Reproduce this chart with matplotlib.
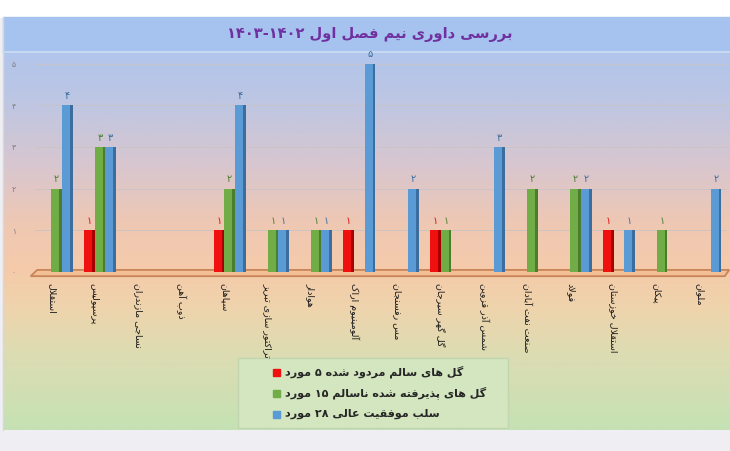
import re
import numpy as np
import matplotlib
matplotlib.use("Agg")
import matplotlib.pyplot as plt
from matplotlib.patches import Rectangle, Polygon
from matplotlib.colors import LinearSegmentedColormap

# ---- data ----
title = "بررسی داوری نیم فصل اول ۱۴۰۳-۱۴۰۲"
teams = ["استقلال", "پرسپولیس", "نساجی مازندران", "ذوب آهن", "سپاهان",
         "تراکتور سازی تبریز", "هوادار", "آلومینیوم اراک", "مس رفسنجان",
         "گل گهر سیرجان", "شمس آذر قزوین", "صنعت نفت آبادان", "فولاد",
         "استقلال خوزستان", "پیکان", "ملوان"]
rejected_goals = [0, 1, 0, 0, 1, 0, 0, 1, 0, 1, 0, 0, 0, 1, 0, 0]
accepted_goals = [2, 3, 0, 0, 2, 1, 1, 0, 0, 1, 0, 2, 2, 0, 1, 0]
denied_chances = [4, 3, 0, 0, 4, 1, 1, 5, 2, 0, 3, 0, 2, 1, 0, 2]
series_names = ["گل های سالم مردود شده ۵ مورد",
                "گل های پذیرفته شده ناسالم ۱۵ مورد",
                "سلب موفقیت عالی ۲۸ مورد"]
y_ticks = [0, 1, 2, 3, 4, 5]

# ---- minimal Persian shaping (matplotlib has no bidi / joining) ----
FORMS = {
    'ا': 'ﺍﺎ', 'آ': 'ﺁﺂ', 'د': 'ﺩﺪ', 'ذ': 'ﺫﺬ', 'ر': 'ﺭﺮ', 'ز': 'ﺯﺰ',
    'ژ': 'ﮊﮋ', 'و': 'ﻭﻮ',
    'ب': 'ﺏﺐﺑﺒ', 'پ': 'ﭖﭗﭘﭙ', 'ت': 'ﺕﺖﺗﺘ', 'ث': 'ﺙﺚﺛﺜ', 'ج': 'ﺝﺞﺟﺠ',
    'چ': 'ﭺﭻﭼﭽ', 'ح': 'ﺡﺢﺣﺤ', 'خ': 'ﺥﺦﺧﺨ', 'س': 'ﺱﺲﺳﺴ', 'ش': 'ﺵﺶﺷﺸ',
    'ص': 'ﺹﺺﺻﺼ', 'ض': 'ﺽﺾﺿﻀ', 'ط': 'ﻁﻂﻃﻄ', 'ظ': 'ﻅﻆﻇﻈ', 'ع': 'ﻉﻊﻋﻌ',
    'غ': 'ﻍﻎﻏﻐ', 'ف': 'ﻑﻒﻓﻔ', 'ق': 'ﻕﻖﻗﻘ', 'ک': 'ﮎﮏﮐﮑ', 'گ': 'ﮒﮓﮔﮕ',
    'ل': 'ﻝﻞﻟﻠ', 'م': 'ﻡﻢﻣﻤ', 'ن': 'ﻥﻦﻧﻨ', 'ه': 'ﻩﻪﻫﻬ', 'ی': 'ﯼﯽﯾﯿ',
}
LAM_ALEF = {'ا': 'ﻻﻼ', 'آ': 'ﻵﻶ'}


def fa(text):
    out = []
    n = len(text)
    i = 0
    while i < n:
        c = text[i]
        if c not in FORMS:
            out.append(c)
            i += 1
            continue
        prev = i > 0 and len(FORMS.get(text[i - 1], '')) == 4
        if c == 'ل' and i + 1 < n and text[i + 1] in LAM_ALEF:
            out.append(LAM_ALEF[text[i + 1]][1 if prev else 0])
            i += 2
            continue
        f = FORMS[c]
        nxt = len(f) == 4 and i + 1 < n and text[i + 1] in FORMS
        if prev and nxt:
            out.append(f[3])
        elif prev:
            out.append(f[1])
        elif nxt:
            out.append(f[2])
        else:
            out.append(f[0])
        i += 1
    vis = ''.join(out)[::-1]
    return re.sub(r'[۰-۹0-9]+(?:-[۰-۹0-9]+)*', lambda m: m.group(0)[::-1], vis)


def fa_num(v):
    return ''.join('۰۱۲۳۴۵۶۷۸۹'[int(d)] for d in str(v))


plt.rcParams['font.family'] = ['DejaVu Sans']

W, H = 730, 451
fig = plt.figure(figsize=(W / 100, H / 100), dpi=100)
fig.patch.set_facecolor('#efeff3')

# background layer in pixel coordinates
bg = fig.add_axes([0, 0, 1, 1], zorder=0)
bg.set_xlim(0, W)
bg.set_ylim(H, 0)
bg.axis('off')
bg.add_patch(Rectangle((0, 0), W, 17, color='white'))
stops = [(0.0, '#b2c5eb'), (0.12, '#bcc6e4'), (0.3, '#d8c6cf'), (0.45, '#efc8b4'),
         (0.58, '#f5cbaa'), (0.68, '#eed4ad'), (0.8, '#dddcb2'), (1.0, '#c5e2b4')]
cmap = LinearSegmentedColormap.from_list('bgfill', stops)
grad = np.linspace(0, 1, 256).reshape(-1, 1)
bg.imshow(grad, cmap=cmap, aspect='auto', extent=(3, W, 430, 52), zorder=0)
bg.add_patch(Rectangle((3, 17), W - 3, 35, color='#a5c3ee', zorder=1))
bg.plot([3, W], [52, 52], color='#cdddf4', lw=1.2, zorder=2)
bg.plot([3, 3], [17, 430], color='#d6d6dc', lw=1, zorder=2)
bg.text(370, 35, fa(title), ha='center', va='center', fontsize=10.5,
        fontweight='bold', color='#7030a0', zorder=3)

# legend (drawn by hand to keep the wide RTL-style box)
bg.add_patch(Rectangle((238, 358), 270, 70, facecolor='#d3e6bf', edgecolor='#c2d4b0',
                       lw=1, zorder=2))
colors = ['#f01010', '#70ad47', '#5b9bd5']
dark = ['#a80000', '#4c7d2f', '#3b6e9e']
for k, (name, col) in enumerate(zip(series_names, colors)):
    yk = 372 + k * 21
    bg.add_patch(Rectangle((273, yk - 3.5), 7, 7, color=col, zorder=3))
    bg.text(285, yk, fa(name), ha='left', va='center', fontsize=8,
            fontweight='bold', color='#262626', zorder=3)

# plot area
ax = fig.add_axes([35 / W, (H - 272) / H, 692 / W, 216.8 / H], zorder=1)
ax.patch.set_alpha(0)
ax.set_xlim(-0.5, len(teams) - 0.5)
ax.set_ylim(0, 5.2)
for s in ax.spines.values():
    s.set_visible(False)
ax.set_xticks([])
ax.set_yticks(y_ticks)
ax.set_yticklabels([fa_num(t) for t in y_ticks], fontsize=5.5, color='#7f7f7f')
ax.tick_params(axis='y', length=0, pad=14)
for t in y_ticks[1:]:
    ax.axhline(t, color='#c9c3c6', lw=0.6, zorder=0)
ax.axvline(-0.55, ymin=0, ymax=5 / 5.2, color='#c4c4c8', lw=0.8, zorder=0)

# floor
floor = Polygon([(-0.6, -0.1), (15.45, -0.1), (15.55, 0.05), (-0.45, 0.05)], closed=True,
                facecolor='#f3c096', edgecolor='#c8855a', lw=1.3, clip_on=False, zorder=1)
ax.add_patch(floor)

x = np.arange(len(teams))
w = 0.245
all_series = [rejected_goals, accepted_goals, denied_chances]
for k, vals in enumerate(all_series):
    xs = x + (k - 1) * w
    v = np.array(vals, dtype=float)
    ax.bar(xs - w / 2, v, width=w, align='edge', color=colors[k], lw=0, zorder=2 + k)
    ax.bar(xs + w / 2 - 0.06, v, width=0.06, align='edge', color=dark[k], lw=0,
           zorder=2 + k)
    for xi, vi in zip(xs, vals):
        if vi > 0:
            ax.text(xi, vi + 0.1, fa_num(vi), ha='center', va='bottom',
                    fontsize=7, color=dark[k] if k else '#e01010', zorder=6)

for i, name in enumerate(teams):
    ax.text(i - 0.12, -0.27, fa(name), rotation=-90, ha='center', va='top',
            fontsize=6.8, color='#1a1a1a', clip_on=False)

fig.savefig('out.png', dpi=100)
